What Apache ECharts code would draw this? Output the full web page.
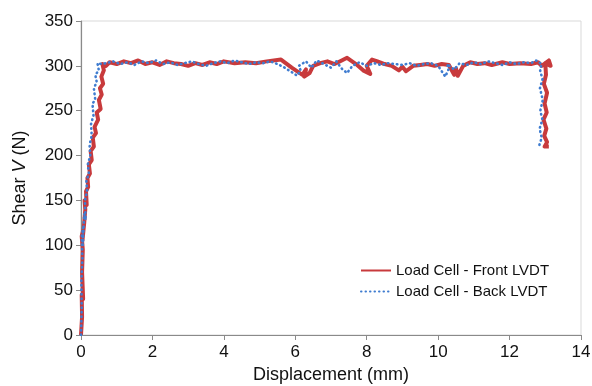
<!DOCTYPE html>
<html>
<head>
<meta charset="utf-8">
<script src="https://cdn.jsdelivr.net/npm/echarts@6/dist/echarts.min.js"></script>
<style>html,body{margin:0;padding:0;background:#fff}#c{width:592px;height:386px}</style>
</head>
<body>
<div id="c"></div>
<script>
const seriesNames = ['Load Cell - Front LVDT', 'Load Cell - Back LVDT'];
const xTicks = [0, 2, 4, 6, 8, 10, 12, 14];
const yTicks = [0, 50, 100, 150, 200, 250, 300, 350];

const frontLVDT = [
  [0.00,0],[0.03,20],[0.02,45],[0.06,40],[0.03,70],[0.05,95],[0.02,110],[0.07,118],[0.04,105],[0.09,125],
  [0.12,140],[0.10,150],[0.16,145],[0.14,160],[0.20,165],[0.18,175],[0.25,180],[0.22,190],[0.30,195],[0.27,205],
  [0.36,210],[0.33,220],[0.42,225],[0.38,232],[0.48,240],[0.44,248],[0.55,252],[0.50,262],[0.58,268],[0.53,275],
  [0.62,280],[0.57,288],[0.64,295],[0.60,302],[0.70,300],
  [0.8,304],[1.0,302],[1.2,305],[1.4,303],[1.6,306],[1.8,302],[2.0,304],[2.2,301],[2.4,305],[2.6,303],
  [2.8,302],[3.0,300],[3.2,303],[3.4,301],[3.6,304],[3.8,302],[4.0,305],[4.3,303],[4.6,304],[4.9,303],
  [5.2,305],[5.6,307],[5.9,298],[6.2,290],[6.3,296],[6.25,288],[6.4,292],[6.5,300],[6.7,303],[6.9,305],
  [7.1,302],[7.3,306],[7.45,309],[7.7,302],[7.9,295],[8.1,291],[8.0,300],[8.15,307],[8.3,305],[8.5,302],
  [8.7,300],[8.9,295],[9.0,299],[9.1,294],[9.3,300],[9.5,301],[9.7,302],[9.9,300],[10.1,302],[10.3,301],
  [10.45,290],[10.5,297],[10.55,289],[10.7,300],[10.9,304],[11.1,302],[11.3,303],[11.5,301],[11.8,304],[12.0,302],
  [12.3,303],[12.6,302],[12.8,304],[12.9,300],[13.1,306],[13.15,300],[13.0,303],
  [13.02,290],[12.96,280],[13.05,270],[12.98,258],[13.04,248],[12.95,240],[13.03,230],[12.97,222],[13.05,215],
  [12.98,210],[13.1,210]
];

const backLVDT = [
  [0.00,0],[0.02,30],[0.01,60],[0.04,85],[0.02,110],[0.06,120],[0.05,100],[0.09,135],[0.13,128],[0.11,150],
  [0.17,160],[0.15,172],[0.22,180],[0.19,190],[0.26,200],[0.24,212],[0.30,222],[0.28,235],[0.35,245],[0.32,258],
  [0.40,262],[0.36,275],[0.44,282],[0.40,290],[0.50,295],[0.46,303],[0.58,302],
  [0.7,303],[0.9,305],[1.1,302],[1.3,304],[1.5,301],[1.7,305],[1.9,303],[2.1,306],[2.3,302],[2.5,304],
  [2.7,301],[2.9,303],[3.1,305],[3.3,302],[3.5,300],[3.7,303],[3.9,305],[4.1,303],[4.3,306],[4.5,304],
  [4.7,302],[4.9,304],[5.1,303],[5.3,305],[5.5,302],[5.7,298],[5.9,293],[6.05,289],[6.15,295],[6.1,300],
  [6.3,305],[6.45,298],[6.6,306],[6.8,302],[7.0,298],[7.15,305],[7.3,297],[7.45,292],[7.6,300],[7.8,304],
  [8.0,300],[8.2,303],[8.4,301],[8.6,303],[8.8,302],[9.0,301],[9.2,303],[9.4,300],[9.6,302],[9.8,303],
  [10.0,300],[10.1,294],[10.2,288],[10.3,297],[10.25,302],[10.45,296],[10.6,303],[10.8,301],[11.0,304],[11.2,302],
  [11.4,305],[11.6,303],[11.8,301],[12.0,304],[12.2,302],[12.4,304],[12.6,303],[12.75,306],[12.9,302],[12.85,296],
  [12.92,285],[12.85,275],[12.93,262],[12.86,250],[12.92,240],[12.84,230],[12.9,220],[12.82,210]
];

const chart = echarts.init(document.getElementById('c'), null, {renderer: 'canvas'});
const font = 'Liberation Sans, Arial, sans-serif';
chart.setOption({
  animation: false,
  backgroundColor: '#fff',
  grid: {left: 81, right: 11, top: 21, bottom: 51, outerBoundsMode: 'none', containLabel: false,
         show: true, borderColor: '#d9d9d9', borderWidth: 1},
  legend: {
    orient: 'vertical', left: 355, top: 258, itemWidth: 30, itemHeight: 14, itemGap: 6,
    itemStyle: {opacity: 0},
    textStyle: {fontFamily: font, fontSize: 15, color: '#111'},
    data: seriesNames
  },
  xAxis: {
    type: 'value', min: xTicks[0], max: xTicks[xTicks.length - 1], interval: 2,
    name: 'Displacement (mm)', nameLocation: 'middle', nameGap: 30,
    nameTextStyle: {fontFamily: font, fontSize: 18, color: '#111'},
    axisLine: {show: true, lineStyle: {color: '#8a8a8a', width: 1.2}},
    axisTick: {show: true, length: 5, lineStyle: {color: '#8a8a8a'}},
    axisLabel: {fontFamily: font, fontSize: 17, color: '#111', margin: 9},
    splitLine: {show: false}
  },
  yAxis: {
    type: 'value', min: yTicks[0], max: yTicks[yTicks.length - 1], interval: 50,
    name: '{n|Shear }{i|V}{n| (N)}', nameLocation: 'middle', nameGap: 52, nameRotate: 90,
    nameTextStyle: {rich: {
      n: {fontFamily: font, fontSize: 18, color: '#111'},
      i: {fontFamily: font, fontSize: 18, color: '#111', fontStyle: 'italic'}
    }},
    axisLine: {show: true, lineStyle: {color: '#8a8a8a', width: 1.2}},
    axisTick: {show: true, length: 5, lineStyle: {color: '#8a8a8a'}},
    axisLabel: {fontFamily: font, fontSize: 17, color: '#111', margin: 8},
    splitLine: {show: false}
  },
  series: [
    {
      name: seriesNames[0], type: 'line', data: frontLVDT, showSymbol: false, symbol: 'none',
      color: '#c83a3c', lineStyle: {color: '#c83a3c', width: 4, join: 'round'}, z: 2
    },
    {
      name: seriesNames[1], type: 'line', data: backLVDT, showSymbol: false, symbol: 'none',
      color: '#3f7cd0', lineStyle: {color: '#3f7cd0', width: 2.6, type: [0.5, 4], cap: 'round'}, z: 3
    }
  ]
});
</script>
</body>
</html>
